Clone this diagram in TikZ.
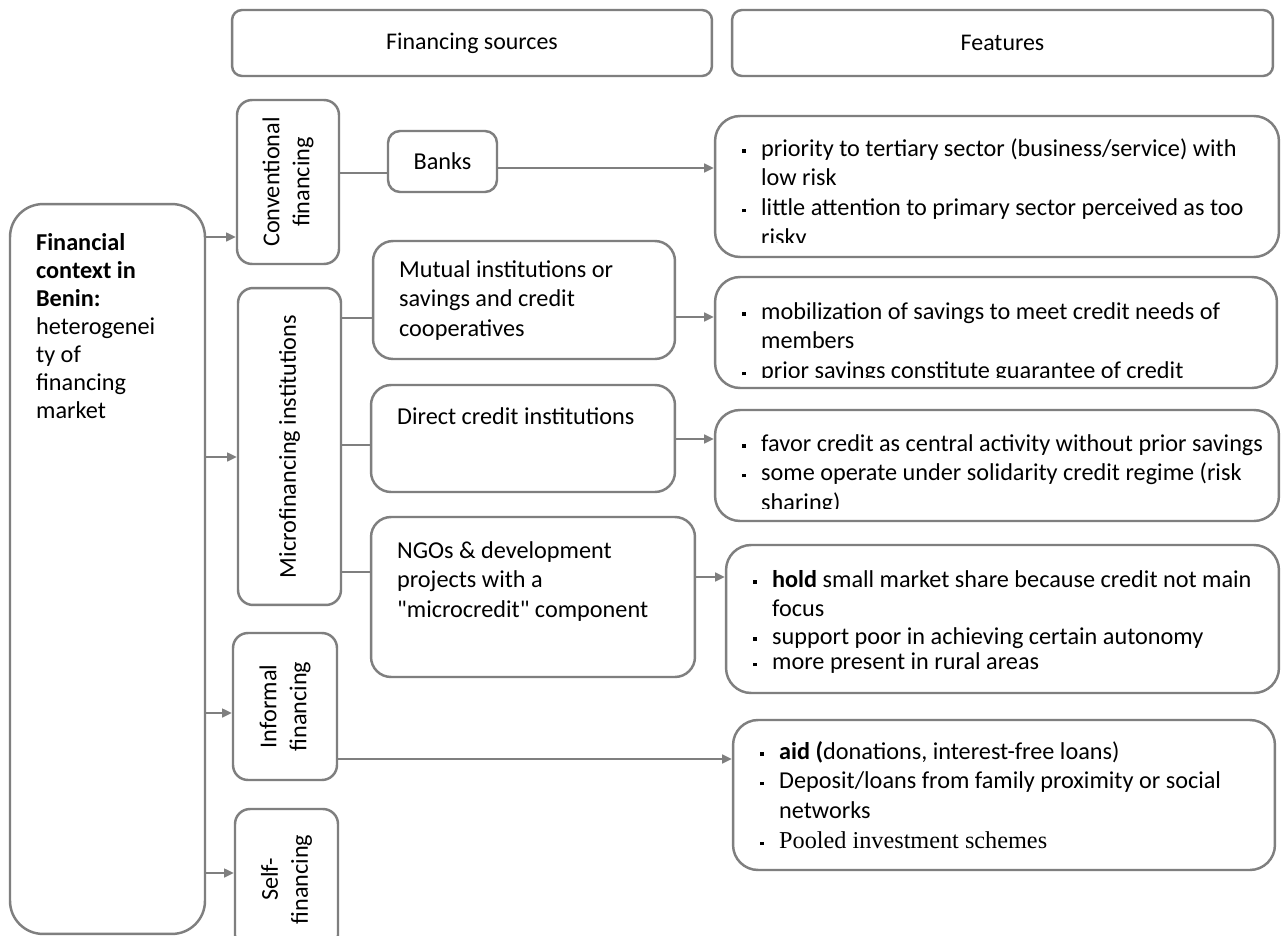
\documentclass[tikz,border=0pt]{standalone}
\usepackage{fontspec}
\setmainfont{Carlito}
\newfontfamily\timesfont{Liberation Serif}
\usepackage{tikz}
\usetikzlibrary{arrows.meta,calc}
\definecolor{linegray}{RGB}{127,127,127}
\newcommand{\fbul}{\makebox[0.38cm][l]{\raisebox{2pt}{\rule{1.9pt}{1.9pt}}}}
\newcommand{\find}{\hspace*{0.38cm}}

\begin{document}
\begin{tikzpicture}[
    x=0.02cm, y=-0.02cm,
    >={Triangle[length=5.5pt,width=5pt]},
    box/.style={draw=linegray, line width=1.4pt, rounded corners=0.3cm, inner sep=0pt, font=\fontsize{13.8}{17}\selectfont},
    head/.style={box, rounded corners=0.2cm, font=\fontsize{13.6}{17}\selectfont},
    subbox/.style={box, rounded corners=0.4cm},
    featbox/.style={box, rounded corners=0.5cm},
    txt/.style={inner sep=0pt, align=left, font=\fontsize{13.8}{17}\selectfont},
    vtxt/.style={txt, align=center, rotate=90},
    arr/.style={->, draw=linegray, line width=1.1pt},
    ln/.style={draw=linegray, line width=1.1pt}
]
\path[use as bounding box, fill=white] (0,0) rectangle (1282,936);

\node[head, minimum width=9.6cm, minimum height=1.32cm] (hdsrc) at (472,43) {Financing sources};
\node[head, minimum width=10.82cm, minimum height=1.32cm] (hdfeat) at (1002.5,43) {Features};

\node[box, rounded corners=0.66cm, minimum width=3.9cm, minimum height=14.6cm] (ctx) at (107.5,569) {};
\node[txt, anchor=north west, font=\fontsize{13.8}{15.9}\selectfont] (ctxtxt) at ($(ctx.north west)+(27,28)$)
  {\strut\textbf{Financial}\\ \textbf{context in}\\ \textbf{Benin:}\\ heterogenei\\ ty of\\ financing\\ market};

\node[box, minimum width=2.04cm, minimum height=3.28cm] (conv) at (288,182) {};
\node[vtxt] (convtxt) at (conv) {Conventional\\financing};
\node[box, minimum width=2.06cm, minimum height=6.34cm] (micro) at (289.5,446.5) {};
\node[vtxt] (microtxt) at (micro) {Microfinancing institutions};
\node[box, minimum width=2.08cm, minimum height=2.94cm] (infor) at (285,706.5) {};
\node[vtxt] (infortxt) at (infor) {Informal\\financing};
\node[box, minimum width=2.06cm, minimum height=2.82cm] (self) at (286.5,879.5) {};
\node[vtxt] (selftxt) at (self) {Self-\\financing};

\node[box, rounded corners=0.24cm, minimum width=2.18cm, minimum height=1.22cm] (banks) at (442.5,161.5) {Banks};
\node[subbox, minimum width=6.04cm, minimum height=2.36cm] (mutual) at (524,300) {};
\node[txt, anchor=north west] (mutualtxt) at ($(mutual.north west)+(27,16)$)
  {\strut Mutual institutions or\\ savings and credit\\ cooperatives};
\node[subbox, minimum width=6.08cm, minimum height=2.14cm] (direct) at (523,438.5) {};
\node[txt, anchor=north west] (directtxt) at ($(direct.north west)+(27,19)$)
  {\strut Direct credit institutions};
\node[subbox, minimum width=6.48cm, minimum height=3.2cm] (ngo) at (533,597) {};
\node[txt, anchor=north west] (ngotxt) at ($(ngo.north west)+(27,21)$)
  {\strut NGOs \& development\\ projects with a\\ \textquotedbl microcredit\textquotedbl\ component};

\node[featbox, minimum width=11.28cm, minimum height=2.82cm] (feat1) at (997,186.5) {};
\node[featbox, minimum width=11.24cm, minimum height=2.22cm] (feat2) at (996,332.5) {};
\node[featbox, minimum width=11.28cm, minimum height=2.22cm] (feat3) at (997,465.5) {};
\node[featbox, minimum width=11.06cm, minimum height=2.96cm] (feat4) at (1002.5,619) {};
\node[featbox, minimum width=10.84cm, minimum height=3.0cm] (feat5) at (1004,795) {};

\begin{scope}
\clip (feat1.north west) rectangle ($(feat1.south east)+(0,-16)$);
\node[txt, anchor=north west] (feat1txt) at ($(feat1.north west)+(28,20)$)
  {\strut\fbul priority to tertiary sector (business/service) with\\ \find low risk\\
   \fbul little attention to primary sector perceived as too\\ \find risky};
\end{scope}
\begin{scope}
\clip (feat2.north west) rectangle ($(feat2.south east)+(0,-12)$);
\node[txt, anchor=north west] (feat2txt) at ($(feat2.north west)+(28,22)$)
  {\strut\fbul mobilization of savings to meet credit needs of\\ \find members\\
   \fbul prior savings constitute guarantee of credit};
\end{scope}
\begin{scope}
\clip (feat3.north west) rectangle ($(feat3.south east)+(0,-14)$);
\node[txt, anchor=north west] (feat3txt) at ($(feat3.north west)+(28,21)$)
  {\strut\fbul favor credit as central activity without prior savings\\
   \fbul some operate under solidarity credit regime (risk\\ \find sharing)};
\end{scope}
\node[txt, anchor=north west] (feat4txt) at ($(feat4.north west)+(28,22)$)
  {\strut\fbul \textbf{hold} small market share because credit not main\\ \find focus\\[-1.5pt]
   \fbul support poor in achieving certain autonomy\\[-2.5pt]
   \fbul more present in rural areas};
\node[txt, anchor=north west] (feat5txt) at ($(feat5.north west)+(28,19)$)
  {\strut\fbul \textbf{aid (}donations, interest-free loans)\\
   \fbul Deposit/loans from family proximity or social\\ \find networks\\
   \fbul {\timesfont Pooled investment schemes}};

\draw[arr] (ctx.east |- 0,237) -- (conv.west |- 0,237);
\draw[arr] (ctx.east |- 0,457) -- (micro.west |- 0,457);
\draw[arr] (ctx.east |- 0,713) -- (infor.west |- 0,713);
\draw[arr] (ctx.east |- 0,873) -- (self.west |- 0,873);
\draw[ln] (conv.east |- 0,173) -- (banks.west |- 0,173);
\draw[arr] (banks.east |- 0,168) -- (feat1.west |- 0,168);
\draw[ln] (micro.east |- 0,318) -- (mutual.west |- 0,318);
\draw[arr] (mutual.east |- 0,317) -- (feat2.west |- 0,317);
\draw[ln] (micro.east |- 0,445) -- (direct.west |- 0,445);
\draw[arr] (direct.east |- 0,439) -- (feat3.west |- 0,439);
\draw[ln] (micro.east |- 0,572) -- (ngo.west |- 0,572);
\draw[arr] (ngo.east |- 0,577) -- (feat4.west |- 0,577);
\draw[arr] (infor.east |- 0,759) -- (feat5.west |- 0,759);
\end{tikzpicture}
\end{document}
